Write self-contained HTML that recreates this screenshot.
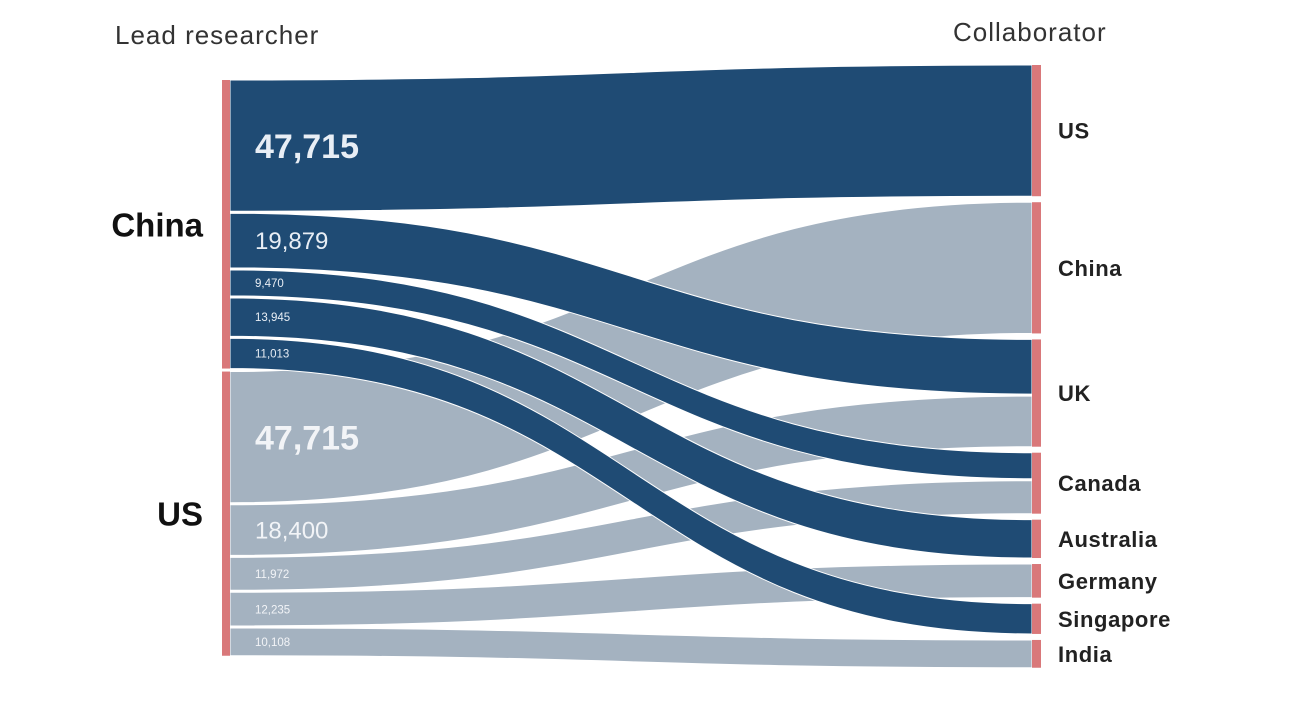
<!DOCTYPE html>
<html><head><meta charset="utf-8"><style>
html,body{margin:0;padding:0;background:#fff;}
svg{display:block;font-family:"Liberation Sans",sans-serif;}
</style></head><body>
<svg id="chart" width="1308" height="712" viewBox="0 0 1308 712">
<text x="115" y="44" font-size="26" letter-spacing="1" fill="#333">Lead researcher</text>
<text x="953" y="41" font-size="26" letter-spacing="1" fill="#333">Collaborator</text>
<g id="flows"></g><g id="nodes"></g><g id="labels"></g>
</svg>
<script>
const sources = ["China","US"];
const targets = ["US","China","UK","Canada","Australia","Germany","Singapore","India"];
const flowSource = ["China","China","China","China","China","US","US","US","US","US"];
const flowTarget = ["US","UK","Canada","Australia","Singapore","China","UK","Canada","Germany","India"];
const flowValue = [47715,19879,9470,13945,11013,47715,18400,11972,12235,10108];
const flowLabel = ["47,715","19,879","9,470","13,945","11,013","47,715","18,400","11,972","12,235","10,108"];

const NS="http://www.w3.org/2000/svg";
const k=0.00275, flowGap=2, nodeGapL=3, nodeGapR=6;
const xL0=222,xL1=230,xR0=1032,xR1=1041;
const dark="#1f4b74", light="#a4b2c0", nodeCol="#d9787a";
function mk(tag,attrs,parent){const e=document.createElementNS(NS,tag);for(const a in attrs)e.setAttribute(a,attrs[a]);parent.appendChild(e);return e;}
const gF=document.getElementById('flows'),gN=document.getElementById('nodes'),gL=document.getElementById('labels');
const th=flowValue.map(v=>v*k);
const leftY={},srcRange={};let y=80;
sources.forEach(s=>{const start=y;let first=true;
 flowValue.forEach((v,i)=>{if(flowSource[i]!==s)return;if(!first)y+=flowGap;first=false;leftY[i]=y;y+=th[i];});
 srcRange[s]=[start,y];y+=nodeGapL;});
const rightY={},tgtRange={};y=65;
targets.forEach(t=>{const start=y;let first=true;
 flowValue.forEach((v,i)=>{if(flowTarget[i]!==t)return;if(!first)y+=flowGap;first=false;rightY[i]=y;y+=th[i];});
 tgtRange[t]=[start,y];y+=nodeGapR;});
const xm=(xL1+xR0)/2;
// draw US (grey) flows first so China (dark) flows sit on top
const order=[...flowValue.keys()].sort((a,b)=>(flowSource[a]==="China")-(flowSource[b]==="China"));
order.forEach(i=>{
 const a=leftY[i],b=rightY[i],h=th[i];
 const d=`M${xL1},${a} C${xm},${a} ${xm},${b} ${xR0},${b} L${xR0},${b+h} C${xm},${b+h} ${xm},${a+h} ${xL1},${a+h} Z`;
 const p=mk('path',{d:d,fill:flowSource[i]==="China"?dark:light,stroke:"#fff","stroke-width":"1"},gF);
 
 
});
flowValue.forEach((v,i)=>{
 const a=leftY[i],h=th[i];
 const fs=v>40000?34:(v>15000?24:11.5);
 const t=mk('text',{x:255,y:a+h/2+fs*0.36,"font-size":fs,fill:flowSource[i]==="China"?"#e8eef5":"#f2f4f7","font-weight":v>40000?"bold":"normal"},gL);
 t.textContent=flowLabel[i];
 
 
});
sources.forEach(s=>{const r=srcRange[s];
 const n=mk('rect',{x:xL0,y:r[0],width:xL1-xL0,height:r[1]-r[0],fill:nodeCol},gN);
 
 
 const t=mk('text',{x:203,y:(r[0]+r[1])/2+12,"font-size":33,"font-weight":"bold",fill:"#111","text-anchor":"end"},gL);
 t.textContent=s;
 
 
});
targets.forEach(tg=>{const r=tgtRange[tg];
 const n=mk('rect',{x:xR0,y:r[0],width:xR1-xR0,height:r[1]-r[0],fill:nodeCol},gN);
 
 
 const t=mk('text',{x:1058,y:(r[0]+r[1])/2+8,"font-size":22,"font-weight":"bold","letter-spacing":"0.6",fill:"#222"},gL);
 t.textContent=tg;
 
 
});
</script>
</body></html>
